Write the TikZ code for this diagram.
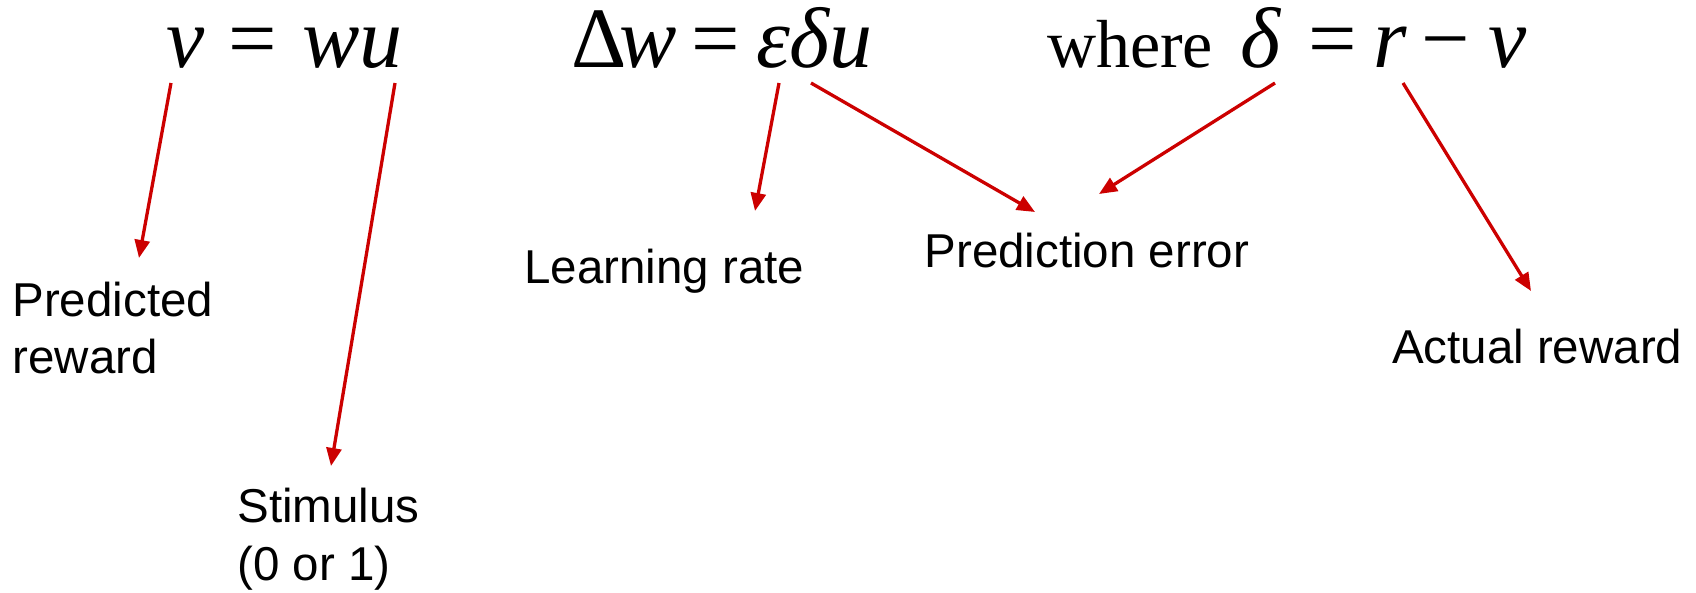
\documentclass[tikz,border=0pt]{standalone}
\usepackage{fontspec}
\setmainfont{Liberation Serif}
\newfontfamily\labelfont{Liberation Sans}
\usetikzlibrary{arrows.meta}
\definecolor{arrowred}{RGB}{204,0,0}
\tikzset{
  eqtext/.style={inner sep=0pt, outer sep=0pt, anchor=base west, font=\fontsize{86}{100}\selectfont},
  wheretext/.style={inner sep=0pt, outer sep=0pt, anchor=base west, font=\fontsize{68}{80}\selectfont},
  lbl/.style={inner sep=0pt, outer sep=0pt, anchor=base west, font=\labelfont\fontsize{47.5}{57}\selectfont},
  redarrow/.style={draw=arrowred, line width=3.3pt, -{Triangle[length=18pt,width=15pt]}}
}
\begin{document}
\begin{tikzpicture}[x=1pt, y=-1pt]
  \useasboundingbox (0,0) rectangle (1696,592);
  % equation 1
  \node[eqtext] (e1v) at (166,67) {\itshape v};
  \node[eqtext] (e1eq) at (228,67) {=};
  \node[eqtext] (e1wu) at (302,67) {\itshape wu};
  % equation 2
  \node[eqtext] (e2d) at (571,67) {Δ};
  \node[eqtext] (e2w) at (619,67) {\itshape w};
  \node[eqtext] (e2eq) at (691,67) {=};
  \node[eqtext] (e2edu) at (756,67) {\itshape εδu};
  % equation 3
  \node[wheretext] (e3where) at (1047,67) {where};
  \node[eqtext] (e3d) at (1240,67) {\itshape δ};
  \node[eqtext] (e3eq) at (1308,67) {=};
  \node[eqtext] (e3r) at (1373,67) {\itshape r};
  \node[eqtext] (e3minus) at (1421,67) {−};
  \node[eqtext] (e3v) at (1488,67) {\itshape v};
  % labels
  \node[lbl] (predA) at (12.5,316) {Predicted};
  \node[lbl] (predB) at (12.5,373) {reward};
  \node[lbl] (stimA) at (237.5,522) {Stimulus};
  \node[lbl] (stimB) at (237.5,580) {(0 or 1)};
  \node[lbl] (learn) at (524.5,283) {Learning rate};
  \node[lbl] (perr) at (924.5,267) {Prediction error};
  \node[lbl] (actual) at (1392,363) {Actual reward};
  % arrow end points
  \coordinate (s1) at (171,83);  \coordinate (t1) at (139,258);
  \coordinate (s2) at (395,83);  \coordinate (t2) at (331,466);
  \coordinate (s3) at (779,83);  \coordinate (t3) at (755,211);
  \coordinate (s4) at (811,83);  \coordinate (t4) at (1035,212);
  \coordinate (s5) at (1275,83); \coordinate (t5) at (1099,194);
  \coordinate (s6) at (1403,83); \coordinate (t6) at (1531,291);
  \draw[redarrow] (s1) -- (t1);
  \draw[redarrow] (s2) -- (t2);
  \draw[redarrow] (s3) -- (t3);
  \draw[redarrow] (s4) -- (t4);
  \draw[redarrow] (s5) -- (t5);
  \draw[redarrow] (s6) -- (t6);
\end{tikzpicture}
\end{document}
